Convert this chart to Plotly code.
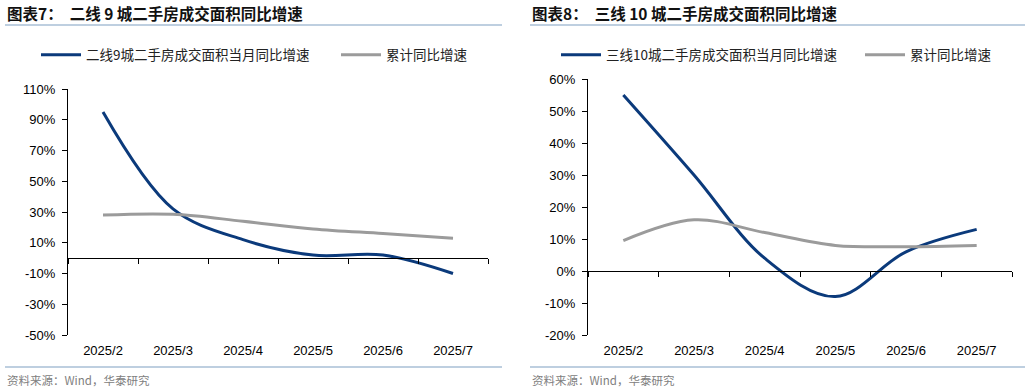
import plotly.graph_objects as go

# ---------------- data ----------------
categories = ["2025/2", "2025/3", "2025/4", "2025/5", "2025/6", "2025/7"]

left_title = "图表7：  二线 9 城二手房成交面积同比增速"
left_monthly_name = "二线9城二手房成交面积当月同比增速"
left_monthly = [95, 32, 12, 2, 2, -10]
left_cum_name = "累计同比增速"
left_cum = [28, 28.5, 24, 19, 16, 13]
left_ticks = [-50, -30, -10, 10, 30, 50, 70, 90, 110]

right_title = "图表8：  三线 10 城二手房成交面积同比增速"
right_monthly_name = "三线10城二手房成交面积当月同比增速"
right_monthly = [55, 30, 4, -8, 6, 13]
right_cum_name = "累计同比增速"
right_cum = [9.5, 16, 12, 8, 7.6, 8]
right_ticks = [-20, -10, 0, 10, 20, 30, 40, 50, 60]

source_text = "资料来源：Wind，华泰研究"

# ---------------- style ----------------
W, H = 1031, 392
BLUE = "#0b3a7b"
GREY = "#9b9b9b"
CJK = "Noto Sans CJK SC"
LAT = "Liberation Sans, Arial, sans-serif"


def px_x(p):
    return p / W


def px_y(p):
    return 1 - p / H


panels = [
    dict(title=left_title, mname=left_monthly_name, m=left_monthly,
         cname=left_cum_name, c=left_cum, ticks=left_ticks,
         x0=68, x1=488, y0=89, y1=335, rule=(5, 502), leg1=43, leg2=343),
    dict(title=right_title, mname=right_monthly_name, m=right_monthly,
         cname=right_cum_name, c=right_cum, ticks=right_ticks,
         x0=588, x1=1012, y0=79, y1=335, rule=(530, 1025), leg1=563, leg2=867),
]

fig = go.Figure()
layout = dict(
    width=W, height=H, margin=dict(l=0, r=0, t=0, b=0, autoexpand=False),
    paper_bgcolor="white", plot_bgcolor="white", showlegend=True,
    shapes=[], annotations=[],
)

leg_idx = 0
for i, p in enumerate(panels):
    n = i + 1
    xa = "x" if n == 1 else f"x{2*n-1}"
    xb = f"x{2*n}"
    ya = "y" if n == 1 else f"y{n}"
    xkey = "xaxis" if n == 1 else f"xaxis{2*n-1}"
    xkey2 = f"xaxis{2*n}"
    ykey = "yaxis" if n == 1 else f"yaxis{n}"

    lo, hi = p["ticks"][0], p["ticks"][-1]
    ydom = [px_y(p["y1"]), px_y(p["y0"])]
    zero_pos = ydom[0] + (0 - lo) / (hi - lo) * (ydom[1] - ydom[0])

    for name, vals, col, lx in ((p["mname"], p["m"], BLUE, p["leg1"]),
                                (p["cname"], p["c"], GREY, p["leg2"])):
        leg_idx += 1
        legname = "legend" if leg_idx == 1 else f"legend{leg_idx}"
        fig.add_trace(go.Scatter(
            x=categories, y=vals, name=name, mode="lines",
            line=dict(color=col, width=3, shape="spline", smoothing=1.0),
            xaxis=xa, yaxis=ya, legend=legname))
        layout[legname] = dict(
            orientation="h", x=px_x(lx - 7), y=px_y(55), xanchor="left", yanchor="middle",
            itemwidth=40, font=dict(family=CJK, size=13.5, color="#222222"),
            bgcolor="rgba(0,0,0,0)", borderwidth=0,
        )

    layout[xkey] = dict(
        domain=[px_x(p["x0"]), px_x(p["x1"])], anchor=ya,
        type="category", categoryorder="array", categoryarray=categories,
        range=[-0.5, len(categories) - 0.5],
        showline=False, ticks="", showgrid=False, zeroline=False,
        tickfont=dict(family=LAT, size=13, color="#000000"),
        ticklabelstandoff=6,
    )
    layout[xkey2] = dict(
        domain=[px_x(p["x0"]), px_x(p["x1"])], anchor="free", position=zero_pos,
        overlaying=xa, type="category", categoryorder="array", categoryarray=categories,
        range=[-0.5, len(categories) - 0.5], matches=xa,
        showline=True, linecolor="#000000", linewidth=1,
        ticks="outside", tickson="boundaries", ticklen=5, tickcolor="#000000",
        showticklabels=False, showgrid=False, zeroline=False,
    )
    fig.add_trace(go.Scatter(x=categories, y=p["c"], mode="lines", xaxis=xb, yaxis=ya,
                             line=dict(width=0), opacity=0, showlegend=False, hoverinfo="skip"))

    layout[ykey] = dict(
        domain=ydom, anchor=xa, range=[lo, hi],
        tickvals=p["ticks"], ticktext=[f"{t}%" for t in p["ticks"]],
        showline=True, linecolor="#000000", linewidth=1,
        ticks="outside", ticklen=5, tickcolor="#000000",
        showgrid=False, zeroline=False,
        tickfont=dict(family=LAT, size=13, color="#000000"),
        ticklabelstandoff=4,
    )

    layout["annotations"].append(dict(
        text=f"<b>{p['title']}</b>", x=px_x(p["rule"][0]), y=px_y(13),
        xref="paper", yref="paper", xanchor="left", yanchor="middle", showarrow=False,
        font=dict(family=CJK, size=15.5, color="#111111")))
    layout["annotations"].append(dict(
        text=source_text, x=px_x(p["rule"][0]), y=px_y(380),
        xref="paper", yref="paper", xanchor="left", yanchor="middle", showarrow=False,
        font=dict(family=CJK, size=11.5, color="#808080")))
    for yy in (25, 367):
        layout["shapes"].append(dict(
            type="line", xref="paper", yref="paper",
            x0=px_x(p["rule"][0]), x1=px_x(p["rule"][1]), y0=px_y(yy), y1=px_y(yy),
            line=dict(color="#a9bfd6", width=1.5)))

fig.update_layout(**layout)
fig.write_html("out.html", config={"displayModeBar": False},
               post_script="document.body.style.margin='0';document.body.style.padding='0';")
